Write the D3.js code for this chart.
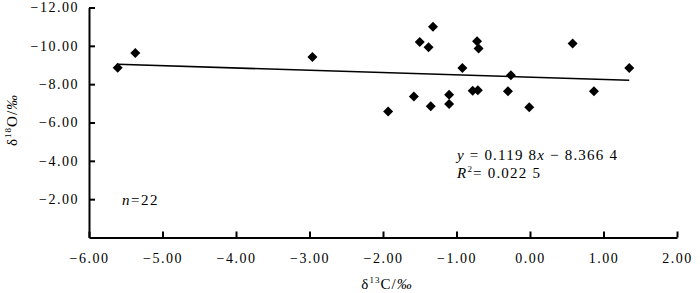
<!DOCTYPE html>
<html>
<head>
<meta charset="utf-8">
<script src="https://cdn.jsdelivr.net/npm/d3@7"></script>
<style>
  body { margin: 0; background: #fff; }
  svg { display: block; font-family: "Liberation Serif", "Times New Roman", serif; }
  .tick text { font-size: 14px; letter-spacing: 1.5px; fill: #000; }
</style>
</head>
<body>
<div id="chart"></div>
<script>
// delta 13C (x) and delta 18O (y)
var carbon = [-5.61, -5.37, -2.96, -1.93, -1.58, -1.50, -1.38, -1.35, -1.32, -1.10, -1.10,
              -0.92, -0.78, -0.72, -0.71, -0.70, -0.30, -0.26, -0.01, 0.58, 0.87, 1.35];
var oxygen = [-8.85, -9.62, -9.42, -6.57, -7.35, -10.20, -9.93, -6.85, -11.00, -7.45, -6.97,
              -8.84, -7.65, -10.24, -7.68, -9.86, -7.63, -8.46, -6.80, -10.12, -7.63, -8.84];
var x_ticks = [-6, -5, -4, -3, -2, -1, 0, 1, 2];
var y_ticks = [-12, -10, -8, -6, -4, -2];
// fitted line y = a x + b
var slope = 0.1198, intercept = -8.3664;

var width = 700, height = 293;
var left = 89, right = 677, top_y = 7.5, bottom = 237.5;

var svg = d3.select("#chart").append("svg")
    .attr("width", width)
    .attr("height", height);

var x = d3.scaleLinear().domain([-6, 2]).range([left, right]);
var y = d3.scaleLinear().domain([0, -12]).range([bottom, top_y]);
var fmt = d3.format(".2f");

// x axis, ticks pointing inward
var xg = svg.append("g")
    .attr("transform", "translate(0," + bottom + ")")
    .call(d3.axisBottom(x).tickValues(x_ticks).tickFormat(fmt)
        .tickSize(-6).tickSizeOuter(0).tickPadding(16));

var yg = svg.append("g")
    .attr("transform", "translate(" + left + ",0)")
    .call(d3.axisLeft(y).tickValues(y_ticks).tickFormat(fmt)
        .tickSize(-6).tickSizeOuter(0).tickPadding(10));

// drop d3's sans-serif default so the serif face is used
xg.attr("font-family", null).attr("font-size", null);
yg.attr("font-family", null).attr("font-size", null);

svg.selectAll(".domain, .tick line")
    .attr("stroke", "#000")
    .attr("stroke-width", 2);

// regression line over the data range
var xr = d3.extent(carbon);
svg.append("line")
    .attr("x1", x(xr[0])).attr("y1", y(slope * xr[0] + intercept))
    .attr("x2", x(xr[1])).attr("y2", y(slope * xr[1] + intercept))
    .attr("stroke", "#000")
    .attr("stroke-width", 1.6);

// diamond markers
var diamond = d3.symbol().type(d3.symbolSquare).size(50);
svg.append("g").selectAll("path")
    .data(carbon)
    .enter().append("path")
    .attr("d", diamond)
    .attr("fill", "#000")
    .attr("transform", function (d, i) {
        return "translate(" + x(d) + "," + y(oxygen[i]) + ") rotate(45)";
    });

// axis titles
var xt = svg.append("text")
    .attr("x", 387).attr("y", 289)
    .attr("text-anchor", "middle")
    .style("font-size", "15px")
    .style("letter-spacing", "1px");
xt.append("tspan").text("δ");
xt.append("tspan").attr("dy", -6).style("font-size", "9px").text("13");
xt.append("tspan").attr("dy", 6).text("C/");
xt.append("tspan").style("font-style", "italic").text("‰");

var yt = svg.append("text")
    .attr("transform", "translate(17,120) rotate(-90)")
    .attr("text-anchor", "middle")
    .style("font-size", "15px")
    .style("letter-spacing", "1px");
yt.append("tspan").text("δ");
yt.append("tspan").attr("dy", -6).style("font-size", "9px").text("18");
yt.append("tspan").attr("dy", 6).text("O/");
yt.append("tspan").style("font-style", "italic").text("‰");

// equation and stats
var eq = svg.append("text")
    .attr("x", 457).attr("y", 160)
    .style("font-size", "15px")
    .style("letter-spacing", "1.2px");
eq.append("tspan").style("font-style", "italic").text("y");
eq.append("tspan").text(" = 0.119 8");
eq.append("tspan").style("font-style", "italic").text("x");
eq.append("tspan").text(" − 8.366 4");

var r2 = svg.append("text")
    .attr("x", 457).attr("y", 178)
    .style("font-size", "15px")
    .style("letter-spacing", "1.2px");
r2.append("tspan").style("font-style", "italic").text("R");
r2.append("tspan").attr("dy", -6).style("font-size", "9px").text("2");
r2.append("tspan").attr("dy", 6).text("=  0.022 5");

var nt = svg.append("text")
    .attr("x", 122).attr("y", 205)
    .style("font-size", "15px")
    .style("letter-spacing", "1.5px");
nt.append("tspan").style("font-style", "italic").text("n");
nt.append("tspan").text("=22");
</script>
</body>
</html>
